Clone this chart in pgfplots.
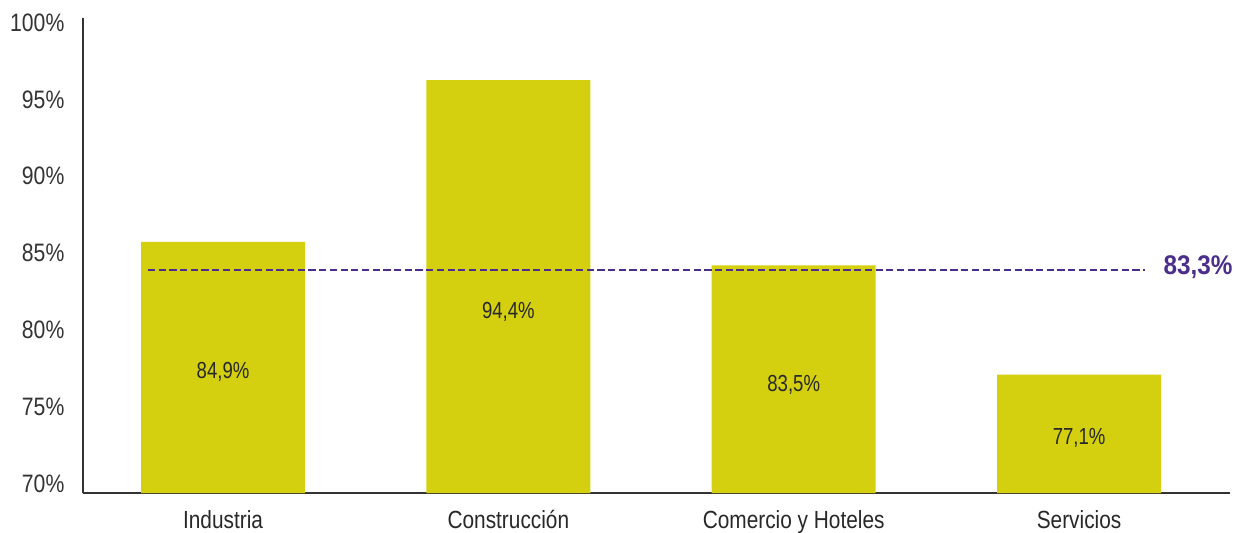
\documentclass[border=0pt]{standalone}
\usepackage{fontspec}
\setmainfont{Liberation Sans}[FakeStretch=0.84]
\newfontfamily\boldcond{Liberation Sans}[FakeStretch=0.90]
\newfontfamily\barfont{Liberation Sans}[FakeStretch=0.80]
\usepackage{pgfplots}
\pgfplotsset{compat=1.18}
\definecolor{barcol}{RGB}{212,208,16}
\definecolor{avgcol}{RGB}{75,46,140}
\definecolor{axcol}{RGB}{51,51,51}
\definecolor{txtcol}{RGB}{40,40,40}
\begin{document}
\begin{tikzpicture}
\begin{axis}[
  scale only axis,
  width=573.5pt, height=237.5pt,
  xmin=-0.4907, xmax=3.529,
  ymin=69.39, ymax=100.3,
  axis x line*=bottom, axis y line*=left,
  axis line style={axcol, line width=0.9pt},
  major tick length=0pt,
  xtick={0,1,2,3},
  xticklabels={Industria, Construcción, Comercio y Hoteles, Servicios},
  xticklabel style={anchor=base, yshift=-17.7pt, font=\fontsize{12.4}{14}\selectfont, text=txtcol},
  ytick={70,75,80,85,90,95,100},
  yticklabel={\pgfmathprintnumber{\tick}\%},
  /pgf/number format/assume math mode=true,
  yticklabel style={anchor=east, xshift=-5.8pt, font=\fontsize{12.6}{14}\selectfont, text=axcol},
  clip=false,
]
\addplot[ybar, bar width=82pt, fill=barcol, draw=none, bar shift=0pt] coordinates {
  (0,85.73) (1,96.26) (2,84.2) (3,77.1)
};
\addplot[avgcol, line width=1pt, dash pattern=on 3.6pt off 1.75pt] coordinates {
  (-0.263,83.89) (3.231,83.89)
};
\node[text=txtcol, font=\barfont\fontsize{11.6}{14}\selectfont] at (axis cs:0,77.27) {84,9\%};
\node[text=txtcol, font=\barfont\fontsize{11.6}{14}\selectfont] at (axis cs:1,81.17) {94,4\%};
\node[text=txtcol, font=\barfont\fontsize{11.6}{14}\selectfont] at (axis cs:2,76.4) {83,5\%};
\node[text=txtcol, font=\barfont\fontsize{11.6}{14}\selectfont] at (axis cs:3,73.0) {77,1\%};
\node[text=avgcol, font=\boldcond\bfseries\fontsize{13.5}{15}\selectfont] at (axis cs:3.417,84.1) {83,3\%};
\end{axis}
\pgfresetboundingbox
\path (-41.5pt,-19.5pt) rectangle (576.5pt,246.5pt);
\end{tikzpicture}
\end{document}
